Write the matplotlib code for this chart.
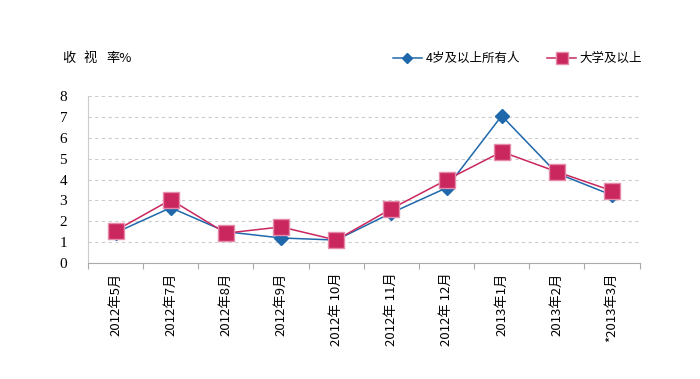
import numpy as np
import matplotlib.pyplot as plt
from matplotlib.lines import Line2D

months = ["2012年5月", "2012年7月", "2012年8月", "2012年9月", "2012年 10月",
          "2012年 11月", "2012年 12月", "2013年1月", "2013年2月", "*2013年3月"]
all_people = [1.45, 2.65, 1.5, 1.2, 1.1, 2.4, 3.6, 7.05, 4.3, 3.25]
college = [1.55, 3.03, 1.43, 1.73, 1.1, 2.6, 3.98, 5.33, 4.37, 3.46]

blue = "#1f68ab"
red = "#c9275e"
cjk = ["Noto Sans CJK SC", "DejaVu Sans"]

fig = plt.figure(figsize=(7, 3.79), dpi=100)
ax = fig.add_axes([0.1257, 0.306, 0.788, 0.4407])

x = np.arange(len(months))
ax.plot(x, all_people, color=blue, lw=1.1, marker="D", ms=7.5, mec=blue, mfc=blue, zorder=3)
ax.plot(x, college, color=red, lw=1.1, marker="s", ms=11, mec="#e58aab", mew=1, mfc=red, zorder=4)

ax.set_xlim(-0.5, len(months) - 0.5)
ax.set_ylim(0, 8)
ax.set_yticks(range(0, 9))
ax.set_yticklabels([str(i) for i in range(9)], family="Liberation Serif", fontsize=11)
ax.tick_params(axis="y", length=0, pad=15)

ax.set_xticks(np.arange(-0.5, len(months), 1.0))
ax.set_xticklabels([])
ax.tick_params(axis="x", length=4, color="#aaaaaa", direction="out")
for i, m in enumerate(months):
    ax.text(i, -0.45, m, rotation=90, ha="center", va="top", fontsize=9.5, family=cjk)

ax.yaxis.grid(True, ls=(0, (3, 3)), color="#cccccc", lw=0.8)
ax.set_axisbelow(True)
for s in ["top", "right"]:
    ax.spines[s].set_visible(False)
ax.spines["left"].set_color("#cccccc")
ax.spines["bottom"].set_color("#aaaaaa")

# y axis title, characters spaced out like the original
for xc, ch in [(62, "收"), (84, "视"), (106, "率%")]:
    fig.text(xc / 700, 0.845, ch, fontsize=9.5, family=cjk, va="center")

handles = [Line2D([], [], color=blue, lw=1.1, marker="D", ms=5),
           Line2D([], [], color=red, lw=1.1, marker="s", ms=8, mec="#e58aab")]
fig.legend(handles, ["4岁及以上所有人", "大学及以上"], loc="center right",
           bbox_to_anchor=(0.93, 0.845), ncol=2, frameon=False,
           prop={"family": cjk, "size": 9}, handlelength=2.3,
           handletextpad=0.3, columnspacing=2.2, borderpad=0.2)

fig.savefig("out.png", dpi=100)
